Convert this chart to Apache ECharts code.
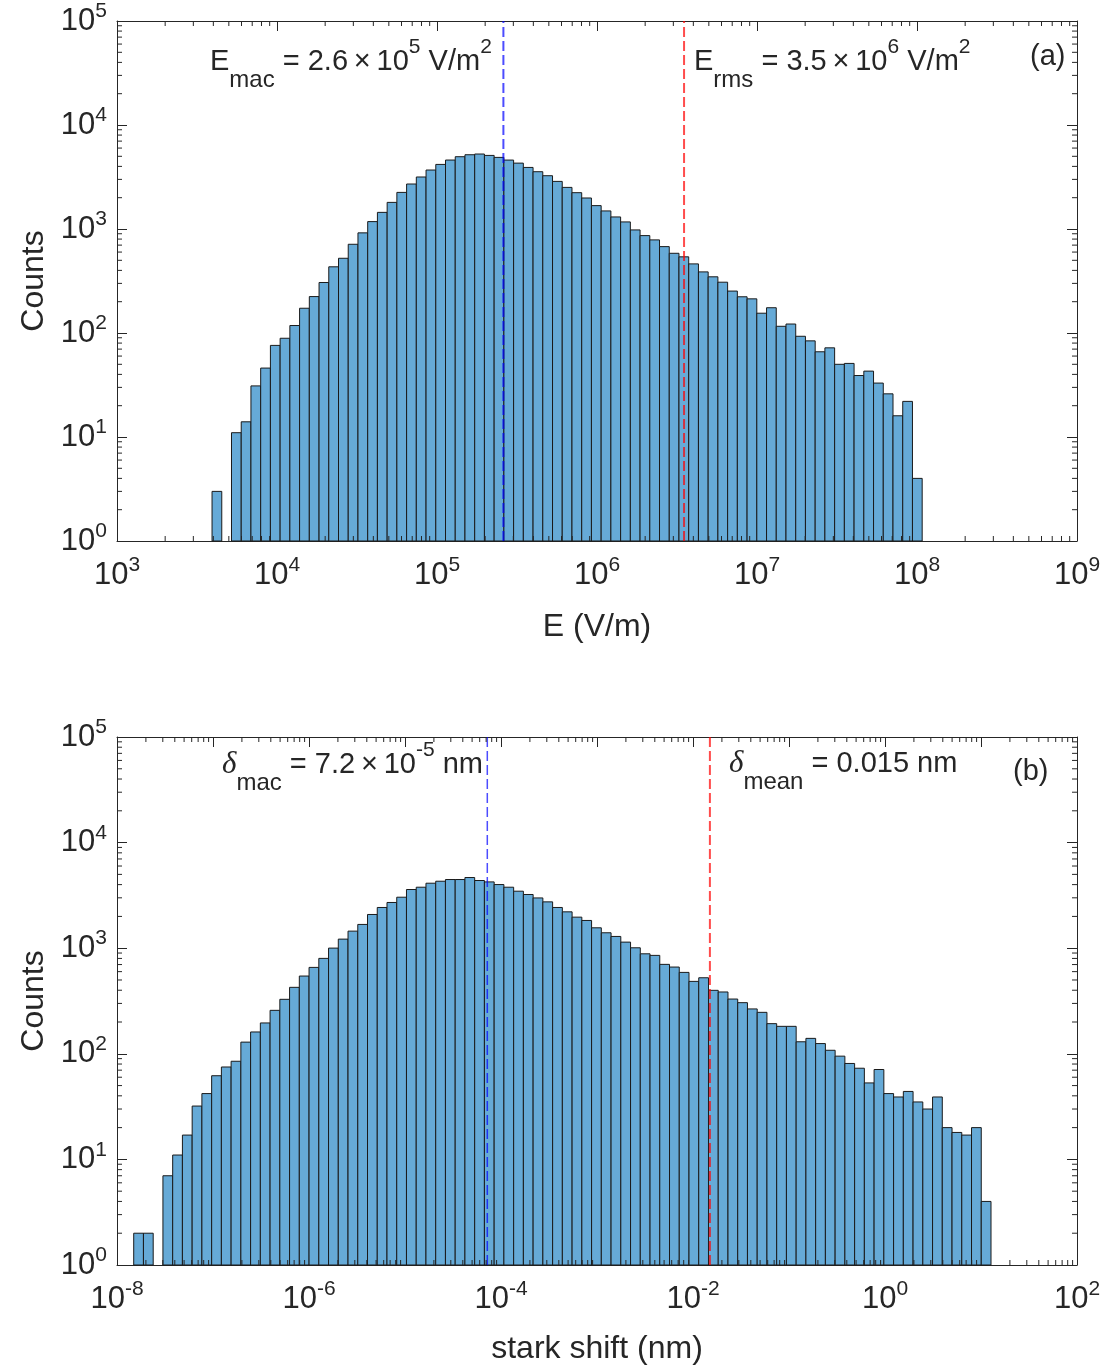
<!DOCTYPE html>
<html>
<head>
<meta charset="utf-8" />
<title>E field / stark shift histograms</title>
<style>
  html, body { margin: 0; padding: 0; background: #fff; }
  #chart { width: 1111px; height: 1370px; }
</style>
</head>
<body>
<div id="chart"></div>
<script src="https://cdn.jsdelivr.net/npm/echarts@6/dist/echarts.min.js"></script>
<script>
// (a) field histogram: log-spaced bins, first edge + width in decades
var eBinStart = 3.594;
var eBinWidth = 0.0608;
var eCounts = [3, 0, 11, 14, 31, 46, 76, 89, 118, 173, 224, 306, 433, 523, 713, 918,
  1178, 1445, 1803, 2249, 2708, 3163, 3690, 4178, 4603, 4955, 5176, 5260, 5100, 4880,
  4600, 4300, 3908, 3555, 3254, 2869, 2512, 2235, 1987, 1678, 1492, 1306, 1170, 980,
  864, 786, 677, 584, 540, 462, 387, 347, 308, 253, 223, 213, 155, 175, 116, 122, 93,
  84, 66, 72, 50, 51, 39, 43, 33, 26, 16, 22, 4];
var eMarks = [2.6e5, 3.5e6];   // E_mac, E_rms

// (b) stark shift histogram
var sBinStart = -7.826;
var sBinWidth = 0.10148;
var sCounts = [2, 2, 0, 7, 11, 17, 32, 42, 62, 75, 85, 129, 161, 196, 258, 328, 426,
  545, 658, 801, 1002, 1219, 1451, 1679, 2086, 2430, 2710, 3040, 3596, 3780, 4125,
  4308, 4470, 4470, 4670, 4375, 4245, 4006, 3780, 3466, 3225, 2993, 2746, 2430, 2210,
  1968, 1831, 1560, 1400, 1292, 1142, 1009, 885, 855, 703, 663, 590, 485, 525, 399,
  385, 330, 305, 266, 247, 193, 182, 182, 130, 140, 125, 108, 95, 81, 73, 53, 71, 42,
  39, 44, 35, 30, 39, 20, 18, 17, 20, 4];
var sMarks = [7.2e-5, 0.015];  // delta_mac, delta_mean

var eRange = [1e3, 1e9];
var sRange = [1e-8, 1e2];
var yRange = [1, 1e5];

var axisColor = '#262626';
var barFill = '#66aad7';
var barEdge = '#1a1a1a';
var fontMain = "'Liberation Sans', Arial, Helvetica, sans-serif";

function binData(start, width, counts) {
  var out = [];
  for (var i = 0; i < counts.length; i++) {
    if (counts[i] <= 0) continue;
    out.push([Math.pow(10, start + i * width), Math.pow(10, start + (i + 1) * width), counts[i]]);
  }
  return out;
}

// 2..9 x 10^e between two decades
function minorValues(lo, hi) {
  var v = [];
  var e0 = Math.round(Math.log(lo) / Math.LN10), e1 = Math.round(Math.log(hi) / Math.LN10);
  for (var e = e0; e < e1; e++) {
    for (var k = 2; k <= 9; k++) v.push(k * Math.pow(10, e));
  }
  return v;
}

function powLabel(everyOther) {
  return function (v) {
    var e = Math.round(Math.log(v) / Math.LN10);
    if (everyOther && e % 2 !== 0) return '';
    return '{b|10}{s|' + e + '}';
  };
}

var tickRich = {
  b: { fontSize: 31, lineHeight: 40, color: axisColor, fontFamily: fontMain },
  s: { fontSize: 21, lineHeight: 16, verticalAlign: 'top', color: axisColor, fontFamily: fontMain }
};

function renderBar(params, api) {
  var p0 = api.coord([api.value(0), api.value(2)]);
  var p1 = api.coord([api.value(1), yRange[0]]);
  return {
    type: 'rect',
    shape: { x: p0[0], y: p0[1], width: p1[0] - p0[0], height: p1[1] - p0[1] },
    style: { fill: barFill, stroke: barEdge, lineWidth: 1 }
  };
}

function makeVLine(color, width) {
  return function (params, api) {
    var b = api.coord([api.value(0), api.value(1)]);
    var t = api.coord([api.value(0), api.value(2)]);
    return {
      type: 'line',
      shape: { x1: b[0], y1: b[1], x2: t[0], y2: t[1] },
      style: { stroke: color, lineWidth: width, lineDash: [10, 4] }
    };
  };
}

function renderMinorX(params, api) {
  var b = api.coord([api.value(0), api.value(1)]);
  var t = api.coord([api.value(0), api.value(2)]);
  return {
    type: 'group', children: [
      { type: 'line', shape: { x1: b[0], y1: b[1], x2: b[0], y2: b[1] - 5 }, style: { stroke: axisColor, lineWidth: 1 } },
      { type: 'line', shape: { x1: t[0], y1: t[1], x2: t[0], y2: t[1] + 5 }, style: { stroke: axisColor, lineWidth: 1 } }
    ]
  };
}

function renderMinorY(params, api) {
  var l = api.coord([api.value(0), api.value(1)]);
  var r = api.coord([api.value(2), api.value(1)]);
  return {
    type: 'group', children: [
      { type: 'line', shape: { x1: l[0], y1: l[1], x2: l[0] + 5, y2: l[1] }, style: { stroke: axisColor, lineWidth: 1 } },
      { type: 'line', shape: { x1: r[0], y1: r[1], x2: r[0] - 5, y2: r[1] }, style: { stroke: axisColor, lineWidth: 1 } }
    ]
  };
}

function xAxes(g, range, name, everyOther, gap) {
  var base = {
    gridIndex: g, type: 'log', logBase: 10, min: range[0], max: range[1], interval: 1,
    splitNumber: 10,
    axisLine: { lineStyle: { color: axisColor, width: 1 } },
    axisTick: { inside: true, length: 10, lineStyle: { color: axisColor, width: 1 } },
    splitLine: { show: false }
  };
  var bottom = echarts.util.merge({
    position: 'bottom', name: name, nameLocation: 'middle', nameGap: gap,
    nameTextStyle: { fontSize: 32, color: axisColor, fontFamily: fontMain },
    axisLabel: { margin: 14, formatter: powLabel(everyOther), rich: tickRich, hideOverlap: false }
  }, base, true);
  var top = echarts.util.merge({ position: 'top', axisLabel: { show: false } }, base, true);
  return [bottom, top];
}

function yAxes(g) {
  var base = {
    gridIndex: g, type: 'log', logBase: 10, min: yRange[0], max: yRange[1], interval: 1,
    axisLine: { lineStyle: { color: axisColor, width: 1 } },
    axisTick: { inside: true, length: 10, lineStyle: { color: axisColor, width: 1 } },
    splitLine: { show: false }
  };
  var left = echarts.util.merge({
    position: 'left', name: 'Counts', nameLocation: 'middle', nameGap: 67,
    nameTextStyle: { fontSize: 32, color: axisColor, fontFamily: fontMain },
    axisLabel: { margin: 10, formatter: powLabel(false), rich: tickRich, hideOverlap: false }
  }, base, true);
  var right = echarts.util.merge({ position: 'right', axisLabel: { show: false } }, base, true);
  return [left, right];
}

function panelSeries(g, binStart, binWidth, counts, xRange, marks, markWidths) {
  var xi = 2 * g, yi = 2 * g;
  var xMinor = minorValues(xRange[0], xRange[1]).map(function (v) { return [v, yRange[0], yRange[1]]; });
  var yMinor = minorValues(yRange[0], yRange[1]).map(function (v) { return [xRange[0], v, xRange[1]]; });
  return [
    { type: 'custom', xAxisIndex: xi, yAxisIndex: yi, renderItem: renderBar,
      encode: { x: [0, 1], y: 2 }, data: binData(binStart, binWidth, counts), z: 2, silent: true },
    { type: 'custom', xAxisIndex: xi, yAxisIndex: yi, renderItem: makeVLine('rgba(0,0,255,0.7)', markWidths[0]),
      encode: { x: 0, y: [1, 2] }, data: [[marks[0], yRange[0], yRange[1]]], z: 3, silent: true },
    { type: 'custom', xAxisIndex: xi, yAxisIndex: yi, renderItem: makeVLine('rgba(255,0,0,0.7)', markWidths[1]),
      encode: { x: 0, y: [1, 2] }, data: [[marks[1], yRange[0], yRange[1]]], z: 3, silent: true },
    { type: 'custom', xAxisIndex: xi, yAxisIndex: yi, renderItem: renderMinorX,
      encode: { x: 0, y: [1, 2] }, data: xMinor, z: 4, silent: true },
    { type: 'custom', xAxisIndex: xi, yAxisIndex: yi, renderItem: renderMinorY,
      encode: { x: [0, 2], y: 1 }, data: yMinor, z: 4, silent: true }
  ];
}

// line box 60px: main text centred, sub/sup pushed to the bottom/top
var annRich = {
  n: { fontSize: 29, lineHeight: 60, fill: axisColor, fontFamily: fontMain },
  sub: { fontSize: 24, lineHeight: 18, verticalAlign: 'bottom', fill: axisColor, fontFamily: fontMain },
  sup: { fontSize: 21, lineHeight: 26, verticalAlign: 'top', padding: [5, 0, 0, 0], fill: axisColor, fontFamily: fontMain },
  d: { fontSize: 31, lineHeight: 60, fill: axisColor, fontFamily: "'Liberation Serif', 'DejaVu Serif', serif", fontStyle: 'italic' }
};

// x/y is the top-left of the 60px line box
function annot(x, y, text) {
  return {
    type: 'text', x: x, y: y, z: 10,
    style: { text: text, rich: annRich, align: 'left', verticalAlign: 'top' }
  };
}

var times = '\u2009\u00d7\u2009';

var chart = echarts.init(document.getElementById('chart'), null, { renderer: 'canvas' });

var option = {
  backgroundColor: '#ffffff',
  animation: false,
  grid: [
    { left: 117, top: 21, width: 960, height: 520 },
    { left: 117, top: 737, width: 960, height: 528 }
  ],
  xAxis: xAxes(0, eRange, 'E (V/m)', false, 70).concat(xAxes(1, sRange, 'stark shift (nm)', true, 68)),
  yAxis: yAxes(0).concat(yAxes(1)),
  series: panelSeries(0, eBinStart, eBinWidth, eCounts, eRange, eMarks, [2, 2])
    .concat(panelSeries(1, sBinStart, sBinWidth, sCounts, sRange, sMarks, [1.5, 2])),
  graphic: [
    annot(210, 32, '{n|E}{sub|mac}{n| = 2.6' + times + '10}{sup|5}{n| V/m}{sup|2}'),
    annot(694, 32, '{n|E}{sub|rms}{n| = 3.5' + times + '10}{sup|6}{n| V/m}{sup|2}'),
    annot(1030, 27, '{n|(a)}'),
    annot(222, 735, '{d|\u03b4}{sub|mac}{n| = 7.2' + times + '10}{sup|-5}{n| nm}'),
    annot(729, 734, '{d|\u03b4}{sub|mean}{n| = 0.015 nm}'),
    annot(1013, 742, '{n|(b)}')
  ]
};

chart.setOption(option);
</script>
</body>
</html>
